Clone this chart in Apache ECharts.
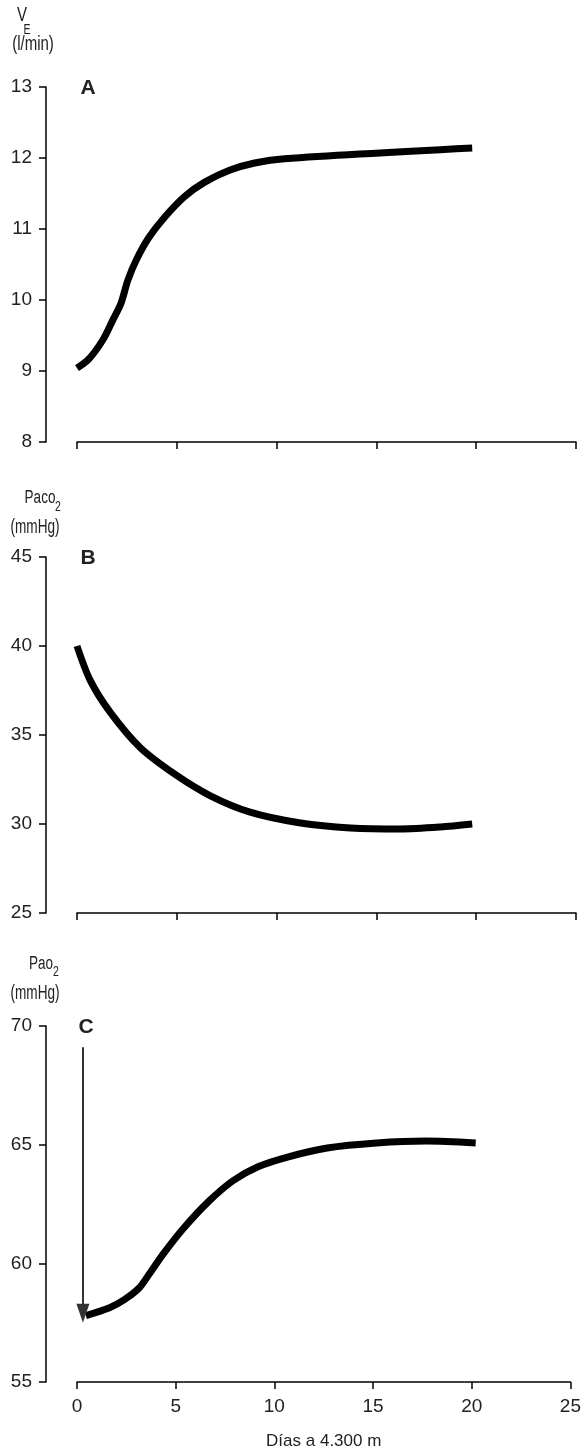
<!DOCTYPE html>
<html><head><meta charset="utf-8">
<script src="https://cdn.jsdelivr.net/npm/echarts@6/dist/echarts.min.js"></script>
<style>html,body{margin:0;padding:0;background:#fff}#c{width:584px;height:1451px}</style>
</head><body><div id="c"></div>
<script>
// Panel A: ventilation (l/min) vs days
const daysA = [0, 0.6, 1.3, 1.8, 2.2, 2.55, 3.0, 3.6, 4.4, 5.4, 6.4, 7.67, 8.9, 10.4, 19.8];
const veA   = [9.04, 9.17, 9.44, 9.72, 9.95, 10.28, 10.58, 10.88, 11.17, 11.46, 11.66, 11.83, 11.93, 11.99, 12.14];
// Panel B: PaCO2 (mmHg)
const daysB = [0, 0.65, 1.65, 3.16, 4.9, 6.66, 8.67, 11.2, 13.7, 16.2, 18.2, 19.8];
const pacoB = [40.0, 38.1, 36.3, 34.3, 32.8, 31.6, 30.67, 30.06, 29.78, 29.72, 29.83, 30.0];
// Panel C: PaO2 (mmHg)
const daysC = [0.45, 1.65, 2.4, 3.16, 3.66, 4.4, 5.4, 6.66, 7.9, 9.17, 10.67, 12.68, 15.18, 17.7, 20.2];
const paoC  = [57.8, 58.13, 58.47, 58.97, 59.55, 60.43, 61.48, 62.6, 63.48, 64.07, 64.48, 64.86, 65.07, 65.15, 65.07];
// Arrow in panel C (day, from value, to value)
const arrowC = {day: 0.3, from: 69.1, to: 57.9};
// Axis ranges / ticks
const xTicks = {min: 0, max: 25, interval: 5};
const yRangeA = {min: 8, max: 13, interval: 1};
const yRangeB = {min: 25, max: 45, interval: 5};
const yRangeC = {min: 55, max: 70, interval: 5};
const xAxisName = 'Días a 4.300 m';

const FONT = "'Liberation Sans', Arial, sans-serif";
const zip = (a, b) => a.map((v, i) => [v, b[i]]);

const chart = echarts.init(document.getElementById('c'), null, {renderer: 'canvas'});

function xAx(gi, showLabels) {
  return {
    type: 'value', gridIndex: gi, min: xTicks.min, max: xTicks.max, interval: xTicks.interval,
    axisLine: {show: true, onZero: false, lineStyle: {color: '#000', width: 1.5}},
    axisTick: {show: true, inside: false, length: 7, lineStyle: {color: '#000', width: 1.5}},
    axisLabel: {show: showLabels, margin: 15, fontFamily: FONT, fontSize: 19, color: '#222'},
    splitLine: {show: false},
    name: showLabels ? xAxisName : '', nameLocation: 'middle', nameGap: 51,
    nameTextStyle: {fontFamily: FONT, fontSize: 17, color: '#222'}
  };
}
function yAx(gi, r) {
  return {
    type: 'value', gridIndex: gi, min: r.min, max: r.max, interval: r.interval, offset: 31,
    axisLine: {show: true, onZero: false, lineStyle: {color: '#000', width: 1.5}},
    axisTick: {show: true, inside: false, length: 7, lineStyle: {color: '#000', width: 1.5}},
    axisLabel: {show: true, margin: 14, fontFamily: FONT, fontSize: 19, color: '#222'},
    splitLine: {show: false}
  };
}
function lineSeries(i, data) {
  return {
    type: 'line', xAxisIndex: i, yAxisIndex: i, data: data, smooth: 0.3,
    showSymbol: false, symbol: 'none', lineStyle: {color: '#000', width: 7, cap: 'butt'},
    silent: true, animation: false
  };
}
function txt(x, y, s, size, bold, sx) {
  return {
    type: 'text', x: x, y: y, scaleX: sx || 1, silent: true,
    style: {
      text: s, fill: '#222', fontSize: size, fontWeight: bold ? 'bold' : 'normal',
      fontFamily: FONT, align: 'center', verticalAlign: 'middle'
    }
  };
}

const seriesC = lineSeries(2, zip(daysC, paoC));
seriesC.markLine = {
  silent: true, animation: false, symbol: ['none', 'triangle'], symbolSize: [13, 19],
  label: {show: false},
  lineStyle: {color: '#333', width: 2, type: 'solid'},
  data: [[{coord: [arrowC.day, arrowC.from]}, {coord: [arrowC.day, arrowC.to]}]]
};

chart.setOption({
  animation: false,
  grid: [
    {left: 77, right: 8, top: 87, height: 355},
    {left: 77, right: 8, top: 557, height: 356},
    {left: 77, right: 8, top: 1026, height: 359}
  ],
  xAxis: [xAx(0, false), xAx(1, false), xAx(2, true)],
  yAxis: [yAx(0, yRangeA), yAx(1, yRangeB), yAx(2, yRangeC)],
  series: [lineSeries(0, zip(daysA, veA)), lineSeries(1, zip(daysB, pacoB)), seriesC],
  graphic: [
    txt(22, 15, 'V', 20, false, 0.75), txt(27, 30, 'E', 14, false, 0.75), txt(33, 44, '(l/min)', 20, false, 0.75),
    txt(88, 88, 'A', 21, true),
    txt(40, 498, 'Paco', 18, false, 0.75), txt(58, 507, '2', 14, false, 0.75), txt(35, 527, '(mmHg)', 20, false, 0.68),
    txt(88, 558, 'B', 21, true),
    txt(41, 964, 'Pao', 18, false, 0.75), txt(56, 972, '2', 14, false, 0.75), txt(35, 993, '(mmHg)', 20, false, 0.68),
    txt(86, 1027, 'C', 21, true)
  ]
});
</script></body></html>
